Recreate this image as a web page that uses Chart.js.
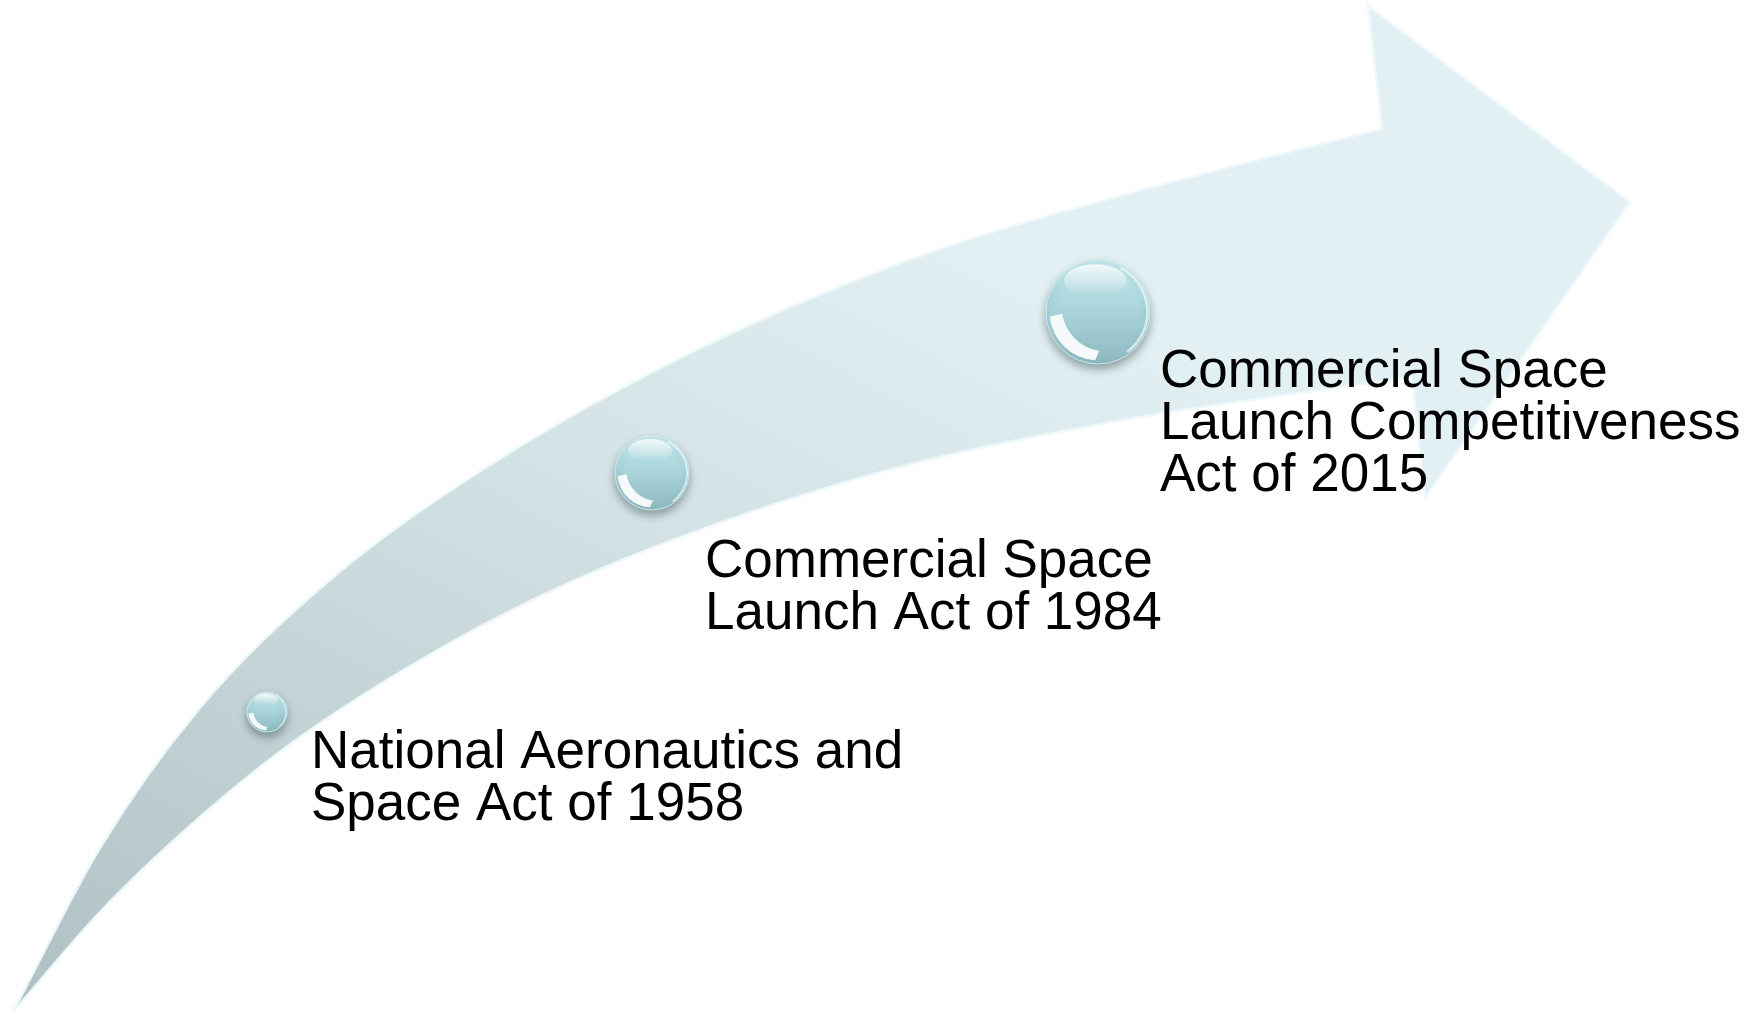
<!DOCTYPE html>
<html>
<head>
<meta charset="utf-8">
<title>US commercial space legislation</title>
<script src="https://cdn.jsdelivr.net/npm/chart.js@4.4.1/dist/chart.umd.min.js"></script>
<style>
  html, body { margin: 0; padding: 0; background: #fff; }
  #wrap { width: 1760px; height: 1014px; position: relative; }
</style>
</head>
<body>
<div id="wrap"><canvas id="timeline"></canvas></div>
<script>
// milestones along the arrow
const acts = [
  "National Aeronautics and Space Act",
  "Commercial Space Launch Act",
  "Commercial Space Launch Competitiveness Act",
];
const years = [1958, 1984, 2015];
const labelLines = [
  ["National Aeronautics and", "Space Act of 1958"],
  ["Commercial Space", "Launch Act of 1984"],
  ["Commercial Space", "Launch Competitiveness", "Act of 2015"],
];

// bubble centres / radii (plot units = pixels of the 1760x1014 sheet)
const bubbleX = [267, 652, 1098];
const bubbleY = [712, 473, 312];
const bubbleR = [20, 37, 52];

// arrow outline
// (upper edge runs on a little past the notch, hidden under the head)
const upperEdgeX = [13, 100, 200, 330, 487, 703, 923, 1146, 1382, 1412];
const upperEdgeY = [1012, 848, 708, 580, 467, 347, 255, 189, 129, 122];
const lowerEdgeX = [13, 100, 200, 300, 450, 571, 700, 900, 1140, 1300, 1412];
const lowerEdgeY = [1012, 912, 817, 737, 643, 582, 530, 467, 417, 393, 377];
// head: notch top -> head top -> tip -> head bottom -> notch bottom
const headX = [1382, 1368, 1630, 1425, 1412];
const headY = [129, 6, 202, 498, 377];

// label anchors (first baseline)
const labelPosX = [311, 705, 1160];
const labelPosY = [768, 577, 387];

const toPoints = (xs, ys) => xs.map((x, i) => ({ x: x, y: ys[i] }));

function arrowFill(ctx) {
  const chart = ctx.chart;
  const area = chart.chartArea;
  if (!area) return "#cddcde";
  const g = chart.ctx.createLinearGradient(area.left, area.bottom, area.left + area.width * 0.3, area.top);
  g.addColorStop(0, "#afc0c2");
  g.addColorStop(0.35, "#c3d3d5");
  g.addColorStop(0.65, "#d3e2e5");
  g.addColorStop(1, "#e2f0f3");
  return g;
}

function bubbleFill(ctx) {
  const chart = ctx.chart;
  if (ctx.type !== "data" || !chart.chartArea) return "#a7d3d9";
  const i = ctx.dataIndex;
  const y = chart.scales.y.getPixelForValue(bubbleY[i]);
  const r = bubbleR[i];
  const g = chart.ctx.createLinearGradient(0, y - r, 0, y + r);
  g.addColorStop(0, "#c6e8ec");
  g.addColorStop(0.45, "#aad6dc");
  g.addColorStop(1, "#8cb8bf");
  return g;
}

// soft shadow under the bubbles + glossy highlights on top of them
const bubbleGloss = {
  id: "bubbleGloss",
  beforeDatasetDraw(chart, args) {
    if (args.meta.type !== "bubble") return;
    const c = chart.ctx;
    c.save();
    c.shadowColor = "rgba(50,70,75,0.45)";
    c.shadowBlur = 8;
    c.shadowOffsetY = 5;
  },
  afterDatasetDraw(chart, args) {
    if (args.meta.type !== "bubble") return;
    const c = chart.ctx;
    c.restore();
    args.meta.data.forEach((pt) => {
      const r = pt.options.radius;
      const x = pt.x, y = pt.y;
      c.save();
      // top glare
      const g = c.createLinearGradient(0, y - r * 0.95, 0, y - r * 0.35);
      g.addColorStop(0, "rgba(255,255,255,0.85)");
      g.addColorStop(1, "rgba(255,255,255,0)");
      c.fillStyle = g;
      c.beginPath();
      c.ellipse(x - r * 0.05, y - r * 0.6, r * 0.6, r * 0.32, 0, 0, Math.PI * 2);
      c.fill();
      // bright crescent, lower left
      c.beginPath();
      c.arc(x, y, r * 0.93, Math.PI * 0.52, Math.PI * 0.97);
      c.arc(x + r * 0.16, y - r * 0.1, r * 0.86, Math.PI * 0.95, Math.PI * 0.55, true);
      c.closePath();
      c.fillStyle = "rgba(255,255,255,0.9)";
      c.fill();
      // faint rim on the right
      c.beginPath();
      c.arc(x, y, r * 0.95, -Math.PI * 0.35, Math.PI * 0.3);
      c.strokeStyle = "rgba(235,250,252,0.7)";
      c.lineWidth = Math.max(1, r * 0.05);
      c.stroke();
      c.restore();
    });
  },
};

const labelText = {
  id: "labelText",
  afterDatasetsDraw(chart) {
    const c = chart.ctx;
    const sx = chart.scales.x, sy = chart.scales.y;
    c.save();
    c.fillStyle = "#000";
    c.font = '53px "Liberation Sans", Arial, sans-serif';
    c.textAlign = "left";
    c.textBaseline = "alphabetic";
    labelLines.forEach((lines, i) => {
      const x = sx.getPixelForValue(labelPosX[i]);
      const y0 = sy.getPixelForValue(labelPosY[i]);
      lines.forEach((t, k) => c.fillText(t, x, y0 + k * 52));
    });
    c.restore();
  },
};

const edgeLine = "rgba(238,249,251,0.95)";

new Chart(document.getElementById("timeline"), {
  type: "scatter",
  data: {
    datasets: [
      {
        type: "line",
        label: "upper edge",
        data: toPoints(upperEdgeX, upperEdgeY),
        cubicInterpolationMode: "monotone",
        borderColor: edgeLine,
        borderWidth: 2.5,
        backgroundColor: arrowFill,
        fill: "+1",
        pointRadius: 0,
        order: 3,
      },
      {
        type: "line",
        label: "lower edge",
        data: toPoints(lowerEdgeX, lowerEdgeY),
        cubicInterpolationMode: "monotone",
        borderColor: edgeLine,
        borderWidth: 2.5,
        fill: false,
        pointRadius: 0,
        order: 2,
      },
      {
        type: "line",
        label: "head",
        data: toPoints(headX, headY),
        tension: 0,
        borderColor: edgeLine,
        borderWidth: 2.5,
        backgroundColor: arrowFill,
        fill: "shape",
        pointRadius: 0,
        order: 1,
      },
      {
        type: "bubble",
        label: "acts",
        data: bubbleX.map((x, i) => ({ x: x, y: bubbleY[i], r: bubbleR[i], year: years[i], act: acts[i] })),
        backgroundColor: bubbleFill,
        borderColor: "rgba(210,236,240,0.9)",
        borderWidth: 1,
        hoverRadius: 0,
        order: 0,
      },
    ],
  },
  options: {
    responsive: true,
    maintainAspectRatio: false,
    animation: false,
    events: [],
    layout: { padding: 0, autoPadding: false },
    scales: {
      x: { type: "linear", min: 0, max: 1760, display: false },
      y: { type: "linear", min: 0, max: 1014, reverse: true, display: false },
    },
    plugins: {
      legend: { display: false },
      tooltip: { enabled: false },
    },
  },
  plugins: [bubbleGloss, labelText],
});
</script>
</body>
</html>
